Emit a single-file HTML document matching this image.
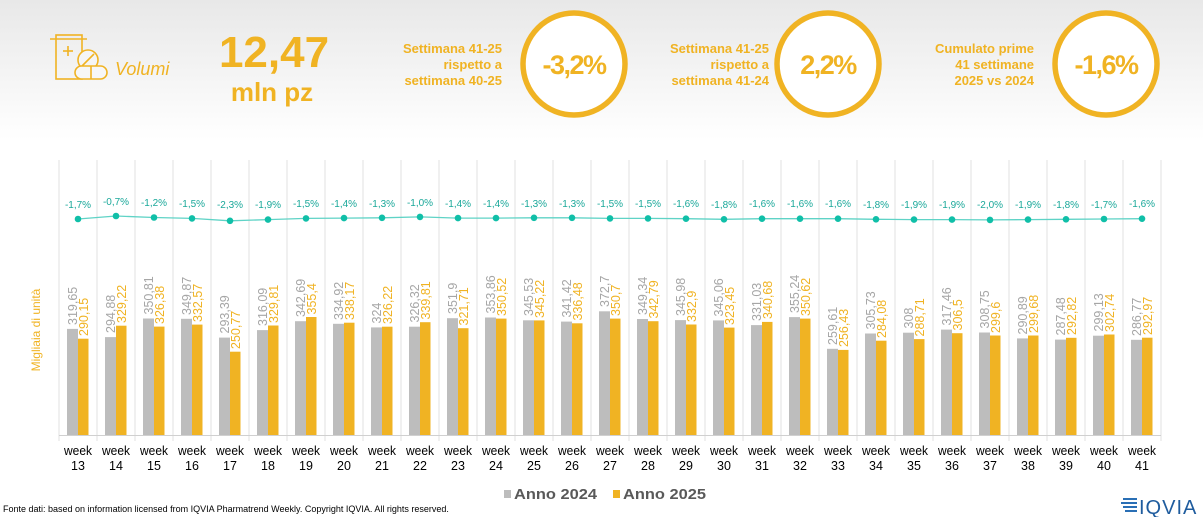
<!DOCTYPE html>
<html><head><meta charset="utf-8"><style>
body{margin:0;width:1203px;height:517px;overflow:hidden;background:#fff;font-family:"Liberation Sans",sans-serif}
svg{display:block}
.o{fill:#f0b323}
.hd{font-weight:bold;font-size:13px;fill:#f0b323;text-anchor:end}
.cv{font-weight:bold;font-size:27px;fill:#f0b323;text-anchor:middle;letter-spacing:-1.5px}
.g{fill:#bdbdbd}.y{fill:#f0b323}
.lg{font-size:12.5px;fill:#a6a6a6}.ly{font-size:12.5px;fill:#f0b323}
.p{font-size:10px;fill:#1aa89a;text-anchor:middle}
.w{font-size:12.5px;fill:#000;text-anchor:middle}
</style></head><body>
<svg width="1203" height="517" viewBox="0 0 1203 517">
<defs><linearGradient id="bg" x1="0" y1="0" x2="0" y2="1"><stop offset="0" stop-color="#e8e8e8"/><stop offset="1" stop-color="#fff"/></linearGradient></defs>
<rect x="0" y="0" width="1203" height="140" fill="url(#bg)"/>
<g fill="none" stroke="#f0b323" stroke-width="1.6">
<rect x="56" y="35" width="26" height="44"/><line x1="50" y1="39" x2="87" y2="39"/>
<line x1="68" y1="46" x2="68" y2="56"/><line x1="63" y1="51" x2="73" y2="51"/>
<circle cx="88" cy="60" r="10" fill="#f5f5f5"/><line x1="82" y1="66" x2="94" y2="54"/>
<rect x="75" y="66" width="32" height="13" rx="6.5" fill="#f7f7f7"/><line x1="91" y1="66" x2="91" y2="79"/>
</g>
<text x="115" y="75" font-size="18" font-style="italic" class="o">Volumi</text>
<text x="274" y="67" font-size="44" font-weight="bold" text-anchor="middle" class="o">12,47</text>
<text x="272" y="101" font-size="26" font-weight="bold" text-anchor="middle" class="o">mln pz</text>
<text class="hd"><tspan x="502" y="53">Settimana 41-25</tspan><tspan x="502" y="69">rispetto a</tspan><tspan x="502" y="85">settimana 40-25</tspan></text>
<text class="hd"><tspan x="769" y="53">Settimana 41-25</tspan><tspan x="769" y="69">rispetto a</tspan><tspan x="769" y="85">settimana 41-24</tspan></text>
<text class="hd"><tspan x="1034" y="53">Cumulato prime</tspan><tspan x="1034" y="69">41 settimane</tspan><tspan x="1034" y="85">2025 vs 2024</tspan></text>
<g fill="#fff" stroke="#f0b323" stroke-width="5.5">
<circle cx="574" cy="64" r="51"/><circle cx="828" cy="64" r="51"/><circle cx="1106" cy="64" r="51"/></g>
<text class="cv" x="574" y="74">-3,2%</text><text class="cv" x="828" y="74">2,2%</text><text class="cv" x="1106" y="74">-1,6%</text>
<g stroke="#e0e0e0" stroke-width="1">
<line x1="59" y1="160" x2="59" y2="441"/><line x1="97" y1="160" x2="97" y2="441"/><line x1="135" y1="160" x2="135" y2="441"/><line x1="173" y1="160" x2="173" y2="441"/><line x1="211" y1="160" x2="211" y2="441"/><line x1="249" y1="160" x2="249" y2="441"/><line x1="287" y1="160" x2="287" y2="441"/><line x1="325" y1="160" x2="325" y2="441"/><line x1="363" y1="160" x2="363" y2="441"/><line x1="401" y1="160" x2="401" y2="441"/><line x1="439" y1="160" x2="439" y2="441"/><line x1="477" y1="160" x2="477" y2="441"/><line x1="515" y1="160" x2="515" y2="441"/><line x1="553" y1="160" x2="553" y2="441"/><line x1="591" y1="160" x2="591" y2="441"/><line x1="629" y1="160" x2="629" y2="441"/><line x1="667" y1="160" x2="667" y2="441"/><line x1="705" y1="160" x2="705" y2="441"/><line x1="743" y1="160" x2="743" y2="441"/><line x1="781" y1="160" x2="781" y2="441"/><line x1="819" y1="160" x2="819" y2="441"/><line x1="857" y1="160" x2="857" y2="441"/><line x1="895" y1="160" x2="895" y2="441"/><line x1="933" y1="160" x2="933" y2="441"/><line x1="971" y1="160" x2="971" y2="441"/><line x1="1009" y1="160" x2="1009" y2="441"/><line x1="1047" y1="160" x2="1047" y2="441"/><line x1="1085" y1="160" x2="1085" y2="441"/><line x1="1123" y1="160" x2="1123" y2="441"/><line x1="1161" y1="160" x2="1161" y2="441"/>
<line x1="59" y1="435.5" x2="1161" y2="435.5" stroke="#d0d0d0"/>
</g>
<g class="g">
<rect x="67" y="328.9" width="11" height="106.1"/><rect x="105" y="337.1" width="11" height="97.9"/><rect x="143" y="318.5" width="11" height="116.5"/><rect x="181" y="318.8" width="11" height="116.2"/><rect x="219" y="337.6" width="11" height="97.4"/><rect x="257" y="330.1" width="11" height="104.9"/><rect x="295" y="321.2" width="11" height="113.8"/><rect x="333" y="323.8" width="11" height="111.2"/><rect x="371" y="327.4" width="11" height="107.6"/><rect x="409" y="326.7" width="11" height="108.3"/><rect x="447" y="318.2" width="11" height="116.8"/><rect x="485" y="317.5" width="11" height="117.5"/><rect x="523" y="320.3" width="11" height="114.7"/><rect x="561" y="321.6" width="11" height="113.4"/><rect x="599" y="311.3" width="11" height="123.7"/><rect x="637" y="319" width="11" height="116"/><rect x="675" y="320.1" width="11" height="114.9"/><rect x="713" y="320.4" width="11" height="114.6"/><rect x="751" y="325.1" width="11" height="109.9"/><rect x="789" y="317.1" width="11" height="117.9"/><rect x="827" y="348.8" width="11" height="86.2"/><rect x="865" y="333.5" width="11" height="101.5"/><rect x="903" y="332.7" width="11" height="102.3"/><rect x="941" y="329.6" width="11" height="105.4"/><rect x="979" y="332.5" width="11" height="102.5"/><rect x="1017" y="338.4" width="11" height="96.6"/><rect x="1055" y="339.6" width="11" height="95.4"/><rect x="1093" y="335.7" width="11" height="99.3"/><rect x="1131" y="339.8" width="11" height="95.2"/>
</g>
<g class="y">
<rect x="78" y="338.7" width="10.5" height="96.3"/><rect x="116" y="325.7" width="10.5" height="109.3"/><rect x="154" y="326.6" width="10.5" height="108.4"/><rect x="192" y="324.6" width="10.5" height="110.4"/><rect x="230" y="351.7" width="10.5" height="83.3"/><rect x="268" y="325.5" width="10.5" height="109.5"/><rect x="306" y="317" width="10.5" height="118"/><rect x="344" y="322.7" width="10.5" height="112.3"/><rect x="382" y="326.7" width="10.5" height="108.3"/><rect x="420" y="322.2" width="10.5" height="112.8"/><rect x="458" y="328.2" width="10.5" height="106.8"/><rect x="496" y="318.6" width="10.5" height="116.4"/><rect x="534" y="320.4" width="10.5" height="114.6"/><rect x="572" y="323.3" width="10.5" height="111.7"/><rect x="610" y="318.6" width="10.5" height="116.4"/><rect x="648" y="321.2" width="10.5" height="113.8"/><rect x="686" y="324.5" width="10.5" height="110.5"/><rect x="724" y="327.6" width="10.5" height="107.4"/><rect x="762" y="321.9" width="10.5" height="113.1"/><rect x="800" y="318.6" width="10.5" height="116.4"/><rect x="838" y="349.9" width="10.5" height="85.1"/><rect x="876" y="340.7" width="10.5" height="94.3"/><rect x="914" y="339.1" width="10.5" height="95.9"/><rect x="952" y="333.2" width="10.5" height="101.8"/><rect x="990" y="335.5" width="10.5" height="99.5"/><rect x="1028" y="335.5" width="10.5" height="99.5"/><rect x="1066" y="337.8" width="10.5" height="97.2"/><rect x="1104" y="334.5" width="10.5" height="100.5"/><rect x="1142" y="337.7" width="10.5" height="97.3"/>
</g>
<g class="lg">
<text transform="translate(77,325) rotate(-90)">319,65</text><text transform="translate(115,333) rotate(-90)">294,88</text><text transform="translate(153,314.5) rotate(-90)">350,81</text><text transform="translate(191,315) rotate(-90)">349,87</text><text transform="translate(229,333.5) rotate(-90)">293,39</text><text transform="translate(267,326) rotate(-90)">316,09</text><text transform="translate(305,317) rotate(-90)">342,69</text><text transform="translate(343,320) rotate(-90)">334,92</text><text transform="translate(381,323.5) rotate(-90)">324</text><text transform="translate(419,322.5) rotate(-90)">326,32</text><text transform="translate(457,314) rotate(-90)">351,9</text><text transform="translate(495,313.5) rotate(-90)">353,86</text><text transform="translate(533,316) rotate(-90)">345,53</text><text transform="translate(571,317.5) rotate(-90)">341,42</text><text transform="translate(609,307) rotate(-90)">372,7</text><text transform="translate(647,315) rotate(-90)">349,34</text><text transform="translate(685,316) rotate(-90)">345,98</text><text transform="translate(723,316.5) rotate(-90)">345,06</text><text transform="translate(761,321) rotate(-90)">331,03</text><text transform="translate(799,313) rotate(-90)">355,24</text><text transform="translate(837,345) rotate(-90)">259,61</text><text transform="translate(875,329.5) rotate(-90)">305,73</text><text transform="translate(913,328.5) rotate(-90)">308</text><text transform="translate(951,325.5) rotate(-90)">317,46</text><text transform="translate(989,328.5) rotate(-90)">308,75</text><text transform="translate(1027,334.5) rotate(-90)">290,89</text><text transform="translate(1065,335.5) rotate(-90)">287,48</text><text transform="translate(1103,331.5) rotate(-90)">299,13</text><text transform="translate(1141,336) rotate(-90)">286,77</text>
</g>
<g class="ly">
<text transform="translate(88,336) rotate(-90)">290,15</text><text transform="translate(126,323) rotate(-90)">329,22</text><text transform="translate(164,324) rotate(-90)">326,38</text><text transform="translate(202,322) rotate(-90)">332,57</text><text transform="translate(240,349) rotate(-90)">250,77</text><text transform="translate(278,323) rotate(-90)">329,81</text><text transform="translate(316,314.5) rotate(-90)">355,4</text><text transform="translate(354,320) rotate(-90)">338,17</text><text transform="translate(392,324) rotate(-90)">326,22</text><text transform="translate(430,319.5) rotate(-90)">339,81</text><text transform="translate(468,325.5) rotate(-90)">321,71</text><text transform="translate(506,316) rotate(-90)">350,52</text><text transform="translate(544,318) rotate(-90)">345,22</text><text transform="translate(582,320.5) rotate(-90)">336,48</text><text transform="translate(620,316) rotate(-90)">350,7</text><text transform="translate(658,318.5) rotate(-90)">342,79</text><text transform="translate(696,322) rotate(-90)">332,9</text><text transform="translate(734,325) rotate(-90)">323,45</text><text transform="translate(772,319) rotate(-90)">340,68</text><text transform="translate(810,316) rotate(-90)">350,62</text><text transform="translate(848,347) rotate(-90)">256,43</text><text transform="translate(886,338) rotate(-90)">284,08</text><text transform="translate(924,336.5) rotate(-90)">288,71</text><text transform="translate(962,330.5) rotate(-90)">306,5</text><text transform="translate(1000,333) rotate(-90)">299,6</text><text transform="translate(1038,333) rotate(-90)">299,68</text><text transform="translate(1076,335) rotate(-90)">292,82</text><text transform="translate(1114,332) rotate(-90)">302,74</text><text transform="translate(1152,335) rotate(-90)">292,97</text>
</g>
<polyline fill="none" stroke="#5fd3c6" stroke-width="1.3" points="78,219 116,216 154,217.5 192,218.4 230,220.8 268,219.6 306,218.4 344,218.1 382,217.8 420,216.9 458,218.1 496,218.1 534,217.8 572,217.8 610,218.4 648,218.4 686,218.7 724,219.3 762,218.7 800,218.7 838,218.7 876,219.3 914,219.6 952,219.6 990,219.9 1028,219.6 1066,219.3 1104,219 1142,218.7"/>
<g fill="#10bfa8">
<circle cx="78" cy="219" r="3.3"/><circle cx="116" cy="216" r="3.3"/><circle cx="154" cy="217.5" r="3.3"/><circle cx="192" cy="218.4" r="3.3"/><circle cx="230" cy="220.8" r="3.3"/><circle cx="268" cy="219.6" r="3.3"/><circle cx="306" cy="218.4" r="3.3"/><circle cx="344" cy="218.1" r="3.3"/><circle cx="382" cy="217.8" r="3.3"/><circle cx="420" cy="216.9" r="3.3"/><circle cx="458" cy="218.1" r="3.3"/><circle cx="496" cy="218.1" r="3.3"/><circle cx="534" cy="217.8" r="3.3"/><circle cx="572" cy="217.8" r="3.3"/><circle cx="610" cy="218.4" r="3.3"/><circle cx="648" cy="218.4" r="3.3"/><circle cx="686" cy="218.7" r="3.3"/><circle cx="724" cy="219.3" r="3.3"/><circle cx="762" cy="218.7" r="3.3"/><circle cx="800" cy="218.7" r="3.3"/><circle cx="838" cy="218.7" r="3.3"/><circle cx="876" cy="219.3" r="3.3"/><circle cx="914" cy="219.6" r="3.3"/><circle cx="952" cy="219.6" r="3.3"/><circle cx="990" cy="219.9" r="3.3"/><circle cx="1028" cy="219.6" r="3.3"/><circle cx="1066" cy="219.3" r="3.3"/><circle cx="1104" cy="219" r="3.3"/><circle cx="1142" cy="218.7" r="3.3"/>
</g>
<g class="p">
<text x="78" y="208">-1,7%</text><text x="116" y="205">-0,7%</text><text x="154" y="206">-1,2%</text><text x="192" y="207">-1,5%</text><text x="230" y="208">-2,3%</text><text x="268" y="208">-1,9%</text><text x="306" y="207">-1,5%</text><text x="344" y="207">-1,4%</text><text x="382" y="207">-1,3%</text><text x="420" y="206">-1,0%</text><text x="458" y="207">-1,4%</text><text x="496" y="207">-1,4%</text><text x="534" y="207">-1,3%</text><text x="572" y="207">-1,3%</text><text x="610" y="207">-1,5%</text><text x="648" y="207">-1,5%</text><text x="686" y="207">-1,6%</text><text x="724" y="208">-1,8%</text><text x="762" y="207">-1,6%</text><text x="800" y="207">-1,6%</text><text x="838" y="207">-1,6%</text><text x="876" y="208">-1,8%</text><text x="914" y="208">-1,9%</text><text x="952" y="208">-1,9%</text><text x="990" y="208">-2,0%</text><text x="1028" y="208">-1,9%</text><text x="1066" y="208">-1,8%</text><text x="1104" y="208">-1,7%</text><text x="1142" y="207">-1,6%</text>
</g>
<text transform="translate(40,330) rotate(-90)" font-size="12" text-anchor="middle" class="o">Migliaia di unità</text>
<g class="w">
<text x="78" y="455" textLength="28" lengthAdjust="spacingAndGlyphs">week</text><text x="116" y="455" textLength="28" lengthAdjust="spacingAndGlyphs">week</text><text x="154" y="455" textLength="28" lengthAdjust="spacingAndGlyphs">week</text><text x="192" y="455" textLength="28" lengthAdjust="spacingAndGlyphs">week</text><text x="230" y="455" textLength="28" lengthAdjust="spacingAndGlyphs">week</text><text x="268" y="455" textLength="28" lengthAdjust="spacingAndGlyphs">week</text><text x="306" y="455" textLength="28" lengthAdjust="spacingAndGlyphs">week</text><text x="344" y="455" textLength="28" lengthAdjust="spacingAndGlyphs">week</text><text x="382" y="455" textLength="28" lengthAdjust="spacingAndGlyphs">week</text><text x="420" y="455" textLength="28" lengthAdjust="spacingAndGlyphs">week</text><text x="458" y="455" textLength="28" lengthAdjust="spacingAndGlyphs">week</text><text x="496" y="455" textLength="28" lengthAdjust="spacingAndGlyphs">week</text><text x="534" y="455" textLength="28" lengthAdjust="spacingAndGlyphs">week</text><text x="572" y="455" textLength="28" lengthAdjust="spacingAndGlyphs">week</text><text x="610" y="455" textLength="28" lengthAdjust="spacingAndGlyphs">week</text><text x="648" y="455" textLength="28" lengthAdjust="spacingAndGlyphs">week</text><text x="686" y="455" textLength="28" lengthAdjust="spacingAndGlyphs">week</text><text x="724" y="455" textLength="28" lengthAdjust="spacingAndGlyphs">week</text><text x="762" y="455" textLength="28" lengthAdjust="spacingAndGlyphs">week</text><text x="800" y="455" textLength="28" lengthAdjust="spacingAndGlyphs">week</text><text x="838" y="455" textLength="28" lengthAdjust="spacingAndGlyphs">week</text><text x="876" y="455" textLength="28" lengthAdjust="spacingAndGlyphs">week</text><text x="914" y="455" textLength="28" lengthAdjust="spacingAndGlyphs">week</text><text x="952" y="455" textLength="28" lengthAdjust="spacingAndGlyphs">week</text><text x="990" y="455" textLength="28" lengthAdjust="spacingAndGlyphs">week</text><text x="1028" y="455" textLength="28" lengthAdjust="spacingAndGlyphs">week</text><text x="1066" y="455" textLength="28" lengthAdjust="spacingAndGlyphs">week</text><text x="1104" y="455" textLength="28" lengthAdjust="spacingAndGlyphs">week</text><text x="1142" y="455" textLength="28" lengthAdjust="spacingAndGlyphs">week</text>
<text x="78" y="470">13</text><text x="116" y="470">14</text><text x="154" y="470">15</text><text x="192" y="470">16</text><text x="230" y="470">17</text><text x="268" y="470">18</text><text x="306" y="470">19</text><text x="344" y="470">20</text><text x="382" y="470">21</text><text x="420" y="470">22</text><text x="458" y="470">23</text><text x="496" y="470">24</text><text x="534" y="470">25</text><text x="572" y="470">26</text><text x="610" y="470">27</text><text x="648" y="470">28</text><text x="686" y="470">29</text><text x="724" y="470">30</text><text x="762" y="470">31</text><text x="800" y="470">32</text><text x="838" y="470">33</text><text x="876" y="470">34</text><text x="914" y="470">35</text><text x="952" y="470">36</text><text x="990" y="470">37</text><text x="1028" y="470">38</text><text x="1066" y="470">39</text><text x="1104" y="470">40</text><text x="1142" y="470">41</text>
</g>
<rect x="504" y="490" width="7" height="8" fill="#bdbdbd"/>
<text x="514" y="499" font-size="15" font-weight="bold" fill="#595959" textLength="83" lengthAdjust="spacingAndGlyphs">Anno 2024</text>
<rect x="613" y="490" width="7" height="8" fill="#f0b323"/>
<text x="623" y="499" font-size="15" font-weight="bold" fill="#595959" textLength="83" lengthAdjust="spacingAndGlyphs">Anno 2025</text>
<text x="3" y="512" font-size="9" fill="#000">Fonte dati: based on information licensed from IQVIA Pharmatrend Weekly. Copyright IQVIA. All rights reserved.</text>
<g fill="#2a6fb5"><rect x="1123" y="498" width="14" height="2"/><rect x="1121" y="502" width="16" height="2"/><rect x="1123" y="506" width="14" height="2"/><rect x="1125" y="510" width="12" height="2"/></g>
<text x="1139" y="514" font-size="20" fill="#1f5c9e" letter-spacing="1">IQVIA</text>
</svg>
</body></html>
